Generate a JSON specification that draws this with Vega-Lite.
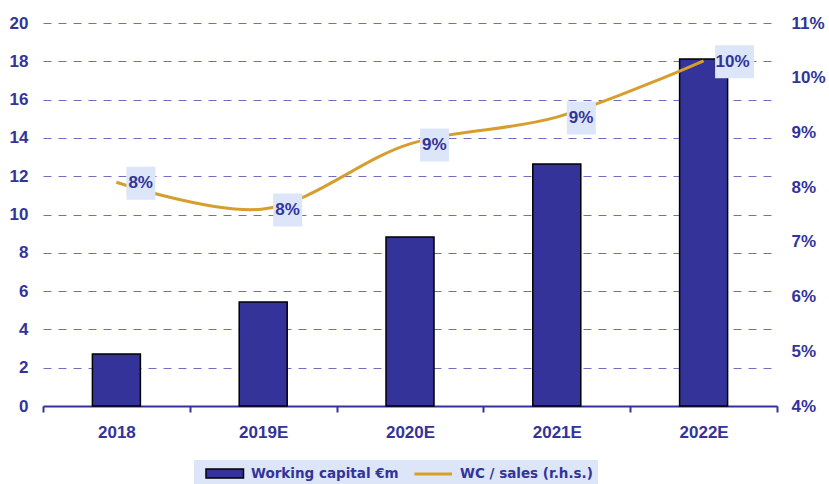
{
  "$schema": "https://vega.github.io/schema/vega-lite/v6.json",
  "width": 734,
  "height": 383,
  "autosize": "none",
  "padding": {"left": 43, "top": 23, "right": 52, "bottom": 78},
  "background": "white",
  "data": {
    "values": [
      {"year": "2018", "wcap": 2.72, "wc": 0.0809},
      {"year": "2019E", "wcap": 5.43, "wc": 0.0760},
      {"year": "2020E", "wcap": 8.83, "wc": 0.0879},
      {"year": "2021E", "wcap": 12.64, "wc": 0.0928},
      {"year": "2022E", "wcap": 18.12, "wc": 0.1031}
    ]
  },
  "encoding": {
    "x": {"field": "year", "type": "nominal", "sort": null, "title": null, "scale": {"paddingInner": 0, "paddingOuter": 0}}
  },
  "layer": [
    {
      "mark": {"type": "bar", "size": 48, "stroke": "black", "strokeWidth": 1.5},
      "encoding": {
        "y": {
          "field": "wcap", "type": "quantitative", "title": null,
          "scale": {"domain": [0, 20], "nice": false, "zero": true},
          "axis": {"orient": "left", "values": [0, 2, 4, 6, 8, 10, 12, 14, 16, 18, 20], "grid": true}
        },
        "fill": {
          "datum": "Working capital €m", "type": "nominal",
          "scale": {"domain": ["Working capital €m"], "range": ["#333399"]},
          "legend": {
            "orient": "none", "legendX": 151, "legendY": 437, "direction": "horizontal", "title": null,
            "fillColor": "#DCE6F8", "padding": 5,
            "labelFont": "DejaVu Sans", "labelFontWeight": "bold", "labelFontSize": 13.5, "labelColor": "#333399",
            "symbolSize": 225, "labelOffset": 35,
            "symbolType": "M-0.2,-0.6H4.8V0.6H-0.2Z",
            "symbolFillColor": "#333399", "symbolStrokeColor": "#000000", "symbolStrokeWidth": 1.5, "symbolOpacity": 1
          }
        }
      }
    },
    {
      "layer": [
        {
          "mark": {"type": "line", "interpolate": "catmull-rom", "strokeWidth": 3},
          "encoding": {
            "y": {
              "field": "wc", "type": "quantitative", "title": null,
              "scale": {"domain": [0.04, 0.11], "nice": false, "zero": false},
              "axis": {"orient": "right", "values": [0.04, 0.05, 0.06, 0.07, 0.08, 0.09, 0.10, 0.11], "format": ".0%", "grid": false}
            },
            "stroke": {
              "datum": "WC / sales (r.h.s.)", "type": "nominal",
              "scale": {"domain": ["WC / sales (r.h.s.)"], "range": ["#D69E2E"]},
              "legend": {
                "orient": "none", "legendX": 355, "legendY": 437, "direction": "horizontal", "title": null,
                "fillColor": "#DCE6F8", "padding": 5,
                "labelFont": "DejaVu Sans", "labelFontWeight": "bold", "labelFontSize": 13.5, "labelColor": "#333399",
                "symbolSize": 225, "labelOffset": 39,
                "symbolType": "M0.33,0H5.33",
                "symbolStrokeColor": "#D69E2E", "symbolStrokeWidth": 3, "symbolOpacity": 1
              }
            }
          }
        },
        {
          "transform": [{"filter": "datum.wc < 0.095"}],
          "mark": {"type": "point", "shape": "M-0.879,-1H0.879V1H-0.879Z", "size": 1089, "filled": true, "color": "#DCE6F8", "opacity": 1, "xOffset": 24.5, "yOffset": 1},
          "encoding": {"y": {"field": "wc", "type": "quantitative"}}
        },
        {
          "transform": [{"filter": "datum.wc >= 0.095"}],
          "mark": {"type": "point", "shape": "M-1,-0.846H1V0.846H-1Z", "size": 1521, "filled": true, "color": "#DCE6F8", "opacity": 1, "xOffset": 31, "yOffset": 1},
          "encoding": {"y": {"field": "wc", "type": "quantitative"}}
        },
        {
          "mark": {"type": "text", "align": "left", "baseline": "middle", "dx": 12, "dy": 1, "font": "Liberation Sans", "fontWeight": "bold", "fontSize": 17, "color": "#333399"},
          "encoding": {
            "y": {"field": "wc", "type": "quantitative"},
            "text": {"field": "wc", "type": "quantitative", "format": ".0%"}
          }
        }
      ]
    }
  ],
  "resolve": {"scale": {"y": "independent"}},
  "config": {
    "view": {"stroke": null},
    "axis": {
      "labelFont": "Liberation Sans", "labelFontWeight": "bold", "labelFontSize": 17, "labelColor": "#333399"
    },
    "axisX": {
      "domain": true, "domainColor": "#333399", "domainWidth": 2,
      "ticks": true, "tickColor": "#333399", "tickWidth": 2, "tickSize": 6, "tickBand": "extent",
      "labelAngle": 0, "labelPadding": 12, "grid": false
    },
    "axisLeft": {
      "domain": false, "ticks": false, "labelPadding": 15,
      "gridColor": "#6F6FBF", "gridDash": [8, 7], "gridWidth": 1
    },
    "axisRight": {
      "domain": false, "ticks": false, "labelPadding": 14, "labelAlign": "left"
    }
  }
}
